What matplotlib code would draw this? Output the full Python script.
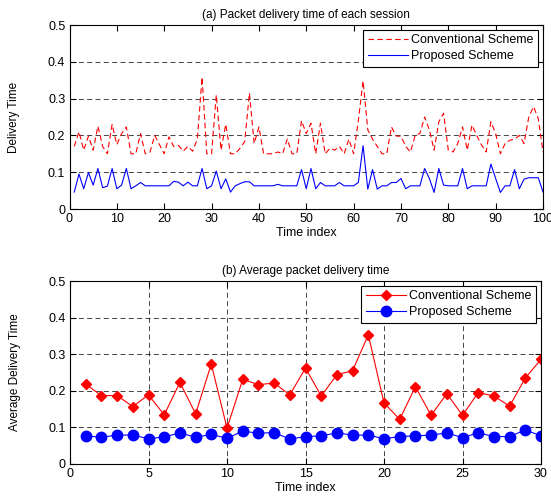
import numpy as np
import matplotlib.pyplot as plt

plt.rcParams['font.family'] = ['Liberation Sans', 'DejaVu Sans']

# (a) per-session delivery time, sessions 1..100
session_idx = np.arange(1, 101)
conv_session = [0.17, 0.21, 0.16, 0.198, 0.16, 0.225, 0.17, 0.15, 0.23, 0.175,
                0.205, 0.223, 0.15, 0.15, 0.205, 0.15, 0.155, 0.2, 0.175, 0.15,
                0.196, 0.17, 0.173, 0.157, 0.17, 0.157, 0.19, 0.358, 0.15, 0.15,
                0.31, 0.16, 0.23, 0.15, 0.15, 0.165, 0.183, 0.315, 0.178, 0.223,
                0.15, 0.15, 0.15, 0.155, 0.15, 0.19, 0.15, 0.15, 0.24, 0.205,
                0.233, 0.15, 0.233, 0.15, 0.165, 0.16, 0.17, 0.15, 0.19, 0.15,
                0.24, 0.348, 0.215, 0.19, 0.17, 0.15, 0.15, 0.223, 0.198, 0.198,
                0.17, 0.155, 0.2, 0.205, 0.25, 0.215, 0.16, 0.237, 0.26, 0.16,
                0.155, 0.178, 0.223, 0.16, 0.228, 0.2, 0.174, 0.155, 0.237, 0.205,
                0.15, 0.178, 0.187, 0.19, 0.2, 0.178, 0.25, 0.278, 0.246, 0.155]
prop_session = [0.046, 0.095, 0.055, 0.099, 0.065, 0.11, 0.058, 0.062, 0.11, 0.055,
                0.065, 0.11, 0.055, 0.063, 0.072, 0.063, 0.063, 0.063, 0.063, 0.063,
                0.063, 0.075, 0.073, 0.063, 0.073, 0.063, 0.063, 0.11, 0.055, 0.063,
                0.103, 0.055, 0.082, 0.046, 0.063, 0.069, 0.074, 0.074, 0.063, 0.063,
                0.063, 0.063, 0.063, 0.067, 0.063, 0.063, 0.063, 0.063, 0.107, 0.055,
                0.11, 0.055, 0.072, 0.063, 0.063, 0.063, 0.072, 0.063, 0.063, 0.063,
                0.072, 0.172, 0.054, 0.107, 0.054, 0.063, 0.063, 0.072, 0.072, 0.083,
                0.055, 0.063, 0.063, 0.063, 0.11, 0.083, 0.045, 0.11, 0.065, 0.063,
                0.063, 0.063, 0.11, 0.055, 0.063, 0.063, 0.063, 0.063, 0.122, 0.083,
                0.045, 0.063, 0.063, 0.107, 0.055, 0.081, 0.085, 0.085, 0.085, 0.046]

# (b) average delivery time, 1..30
avg_idx = np.arange(1, 31)
conv_avg = [0.218, 0.187, 0.187, 0.157, 0.189, 0.134, 0.223, 0.137, 0.273, 0.098,
            0.231, 0.217, 0.221, 0.189, 0.262, 0.186, 0.244, 0.255, 0.353, 0.167,
            0.122, 0.211, 0.133, 0.192, 0.133, 0.195, 0.186, 0.158, 0.235, 0.286]
prop_avg = [0.077, 0.073, 0.079, 0.079, 0.069, 0.074, 0.085, 0.073, 0.081, 0.070,
            0.090, 0.084, 0.086, 0.068, 0.075, 0.077, 0.085, 0.079, 0.079, 0.069,
            0.075, 0.077, 0.079, 0.085, 0.072, 0.085, 0.075, 0.075, 0.093, 0.077]

W, H = 551, 497
fig = plt.figure(figsize=(W / 100, H / 100), dpi=100)

def box(l, t, r, b):
    return [l / W, 1 - b / H, (r - l) / W, (b - t) / H]

grid_kw = dict(color='black', linestyle=(0, (6, 4)), linewidth=0.6, alpha=0.85)

def style(ax):
    ax.tick_params(direction='in', top=True, right=True, labelsize=9, length=4, pad=3)
    for sp in ax.spines.values():
        sp.set_linewidth(0.8)

leg_kw = dict(loc='upper right', fontsize=9, handlelength=3.2, handletextpad=0.3,
              borderpad=0.35, labelspacing=0.3, fancybox=False, framealpha=1,
              edgecolor='black', borderaxespad=0.4)

# top panel
ax1 = fig.add_axes(box(69.5, 25, 543, 209))
ax1.plot(session_idx, conv_session, color='red', linestyle=(0, (5, 3)), linewidth=0.8,
         label='Conventional Scheme')
ax1.plot(session_idx, prop_session, color='blue', linewidth=0.8, label='Proposed Scheme')
ax1.set_xlim(0, 100)
ax1.set_ylim(0, 0.5)
ax1.set_xticks(np.arange(0, 101, 10))
ax1.set_yticks(np.arange(0, 0.51, 0.1))
ax1.set_yticklabels(['0', '0.1', '0.2', '0.3', '0.4', '0.5'])
ax1.yaxis.grid(True, **grid_kw)
ax1.set_axisbelow(True)
style(ax1)
ax1.set_title('(a) Packet delivery time of each session', fontsize=8.5, pad=5)
ax1.set_xlabel('Time index', fontsize=9, labelpad=1)
ax1.set_ylabel('Delivery Time', fontsize=8.5, labelpad=20)
leg1 = ax1.legend(**leg_kw)
leg1.get_frame().set_linewidth(0.8)

# bottom panel
ax2 = fig.add_axes(box(70, 281, 541, 464))
ax2.plot(avg_idx, conv_avg, color='red', linewidth=0.8, marker='D', markersize=5,
         label='Conventional Scheme')
ax2.plot(avg_idx, prop_avg, color='blue', linewidth=0.8, marker='o', markersize=7.5,
         label='Proposed Scheme')
ax2.set_xlim(0, 30)
ax2.set_ylim(0, 0.5)
ax2.set_xticks(np.arange(0, 31, 5))
ax2.set_yticks(np.arange(0, 0.51, 0.1))
ax2.set_yticklabels(['0', '0.1', '0.2', '0.3', '0.4', '0.5'])
ax2.grid(True, **grid_kw)
ax2.set_axisbelow(True)
style(ax2)
ax2.set_title('(b) Average packet delivery time', fontsize=8.5, pad=5)
ax2.set_xlabel('Time index', fontsize=9, labelpad=1)
ax2.set_ylabel('Average Delivery Time', fontsize=8.5, labelpad=20)
leg2 = ax2.legend(**leg_kw)
leg2.get_frame().set_linewidth(0.8)

fig.savefig('out.png', dpi=100)
